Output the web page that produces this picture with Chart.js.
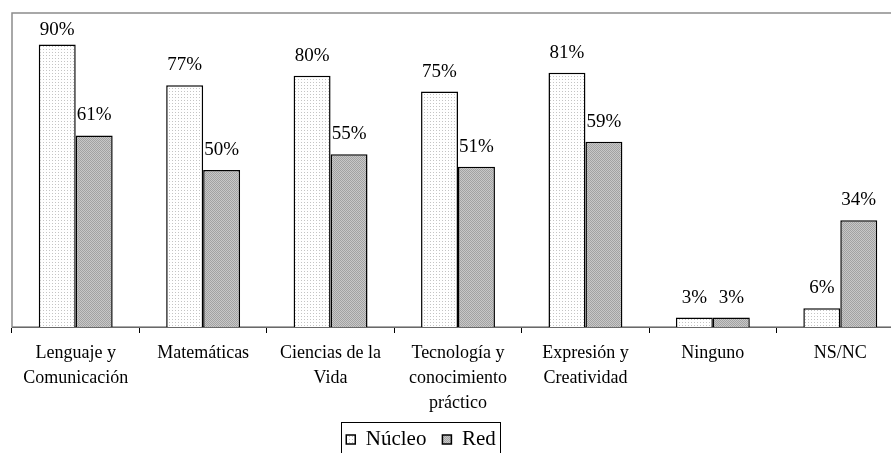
<!DOCTYPE html>
<html>
<head>
<meta charset="utf-8">
<script src="https://cdn.jsdelivr.net/npm/chart.js@4.4.1/dist/chart.umd.min.js"></script>
<style>
  html, body { margin: 0; padding: 0; background: #fff; overflow: hidden; }
  #wrap { width: 905px; height: 469px; }
</style>
</head>
<body>
<div id="wrap"><canvas id="chart" width="905" height="469"></canvas></div>
<script>
const categories = [
  ['Lenguaje y', 'Comunicación'],
  'Matemáticas',
  ['Ciencias de la', 'Vida'],
  ['Tecnología y', 'conocimiento', 'práctico'],
  ['Expresión y', 'Creatividad'],
  'Ninguno',
  'NS/NC'
]
const nucleoValues = [90, 77, 80, 75, 81, 3, 6]
const redValues = [61, 50, 55, 51, 59, 3, 34]
const seriesNames = ['Núcleo', 'Red']

const FONT = "'Liberation Serif', 'Times New Roman', serif"

// fill patterns, like the old office charts
function dotPattern() {
  const c = document.createElement('canvas')
  c.width = 3; c.height = 3
  const g = c.getContext('2d')
  g.fillStyle = '#ffffff'
  g.fillRect(0, 0, 3, 3)
  g.fillStyle = '#c4c4c4'
  g.fillRect(1, 1, 1, 1)
  return g.createPattern(c, 'repeat')
}

function grayPattern() {
  const c = document.createElement('canvas')
  c.width = 4; c.height = 4
  const g = c.getContext('2d')
  g.fillStyle = '#c8c8c8'
  g.fillRect(0, 0, 4, 4)
  g.fillStyle = '#a2a2a2'
  for (let i = 0; i < 4; i++) {
    g.fillRect(i, i, 1, 1)
    g.fillRect((i + 2) % 4, i, 1, 1)
  }
  return g.createPattern(c, 'repeat')
}

const ctx = document.getElementById('chart').getContext('2d')

const framePlugin = {
  id: 'frame',
  afterLayout(chart) {
    // legend sits a bit left of centre and higher in the original
    const L = chart.legend
    L.left -= 37; L.right -= 37
    L.top -= 9; L.bottom -= 9
  },
  beforeDatasetsDraw(chart) {
    const { ctx, chartArea } = chart
    ctx.save()
    ctx.strokeStyle = '#8c8c8c'
    ctx.lineWidth = 1.5
    ctx.strokeRect(chartArea.left, chartArea.top, chartArea.right - chartArea.left, chartArea.bottom - chartArea.top)
    ctx.restore()
  },
  afterDraw(chart) {
    const { ctx, chartArea } = chart
    // value labels above bars, kept inside the frame
    ctx.save()
    ctx.font = '19px ' + FONT
    ctx.fillStyle = '#000'
    ctx.textAlign = 'center'
    ctx.textBaseline = 'alphabetic'
    chart.data.datasets.forEach((ds, i) => {
      chart.getDatasetMeta(i).data.forEach((bar, j) => {
        const y = Math.max(bar.y - 15, chartArea.top + 22)
        ctx.fillText(ds.data[j] + '%', bar.x, y)
      })
    })
    // box round the legend
    const boxes = chart.legend.legendHitBoxes
    if (boxes && boxes.length) {
      const left = Math.min(...boxes.map(b => b.left)) - 5
      const right = Math.max(...boxes.map(b => b.left + b.width)) + 5
      const top = chart.legend.top + 9
      ctx.strokeStyle = '#000'
      ctx.lineWidth = 1
      ctx.strokeRect(Math.round(left) + 0.5, Math.round(top) + 0.5, Math.round(right - left), 40)
    }
    ctx.restore()
  }
}

new Chart(ctx, {
  type: 'bar',
  data: {
    labels: categories,
    datasets: [
      {
        label: seriesNames[0],
        data: nucleoValues,
        backgroundColor: dotPattern(),
        borderColor: '#000',
        borderWidth: 1.5,
        barPercentage: 1.0,
        categoryPercentage: 0.58
      },
      {
        label: seriesNames[1],
        data: redValues,
        backgroundColor: grayPattern(),
        borderColor: '#000',
        borderWidth: 1.5,
        barPercentage: 1.0,
        categoryPercentage: 0.58
      }
    ]
  },
  options: {
    responsive: false,
    devicePixelRatio: 1,
    animation: false,
    events: [],
    layout: {
      padding: { left: 12, top: 13, right: 1, bottom: 0 }
    },
    plugins: {
      legend: {
        display: true,
        position: 'bottom',
        labels: {
          boxWidth: 9,
          boxHeight: 9,
          padding: 16,
          color: '#000',
          font: { size: 21, family: FONT }
        }
      },
      tooltip: { enabled: false }
    },
    scales: {
      x: {
        offset: true,
        grid: {
          display: true,
          offset: true,
          drawOnChartArea: false,
          drawTicks: true,
          tickLength: 6,
          color: '#000'
        },
        border: { display: true, color: '#000', width: 1 },
        ticks: {
          color: '#000',
          padding: 8,
          maxRotation: 0,
          autoSkip: false,
          font: { size: 18, family: FONT, lineHeight: 1.38 }
        },
        afterFit(scale) {
          scale.height = 95
        }
      },
      y: {
        display: false,
        min: 0,
        max: 100
      }
    }
  },
  plugins: [framePlugin]
})
</script>
</body>
</html>
